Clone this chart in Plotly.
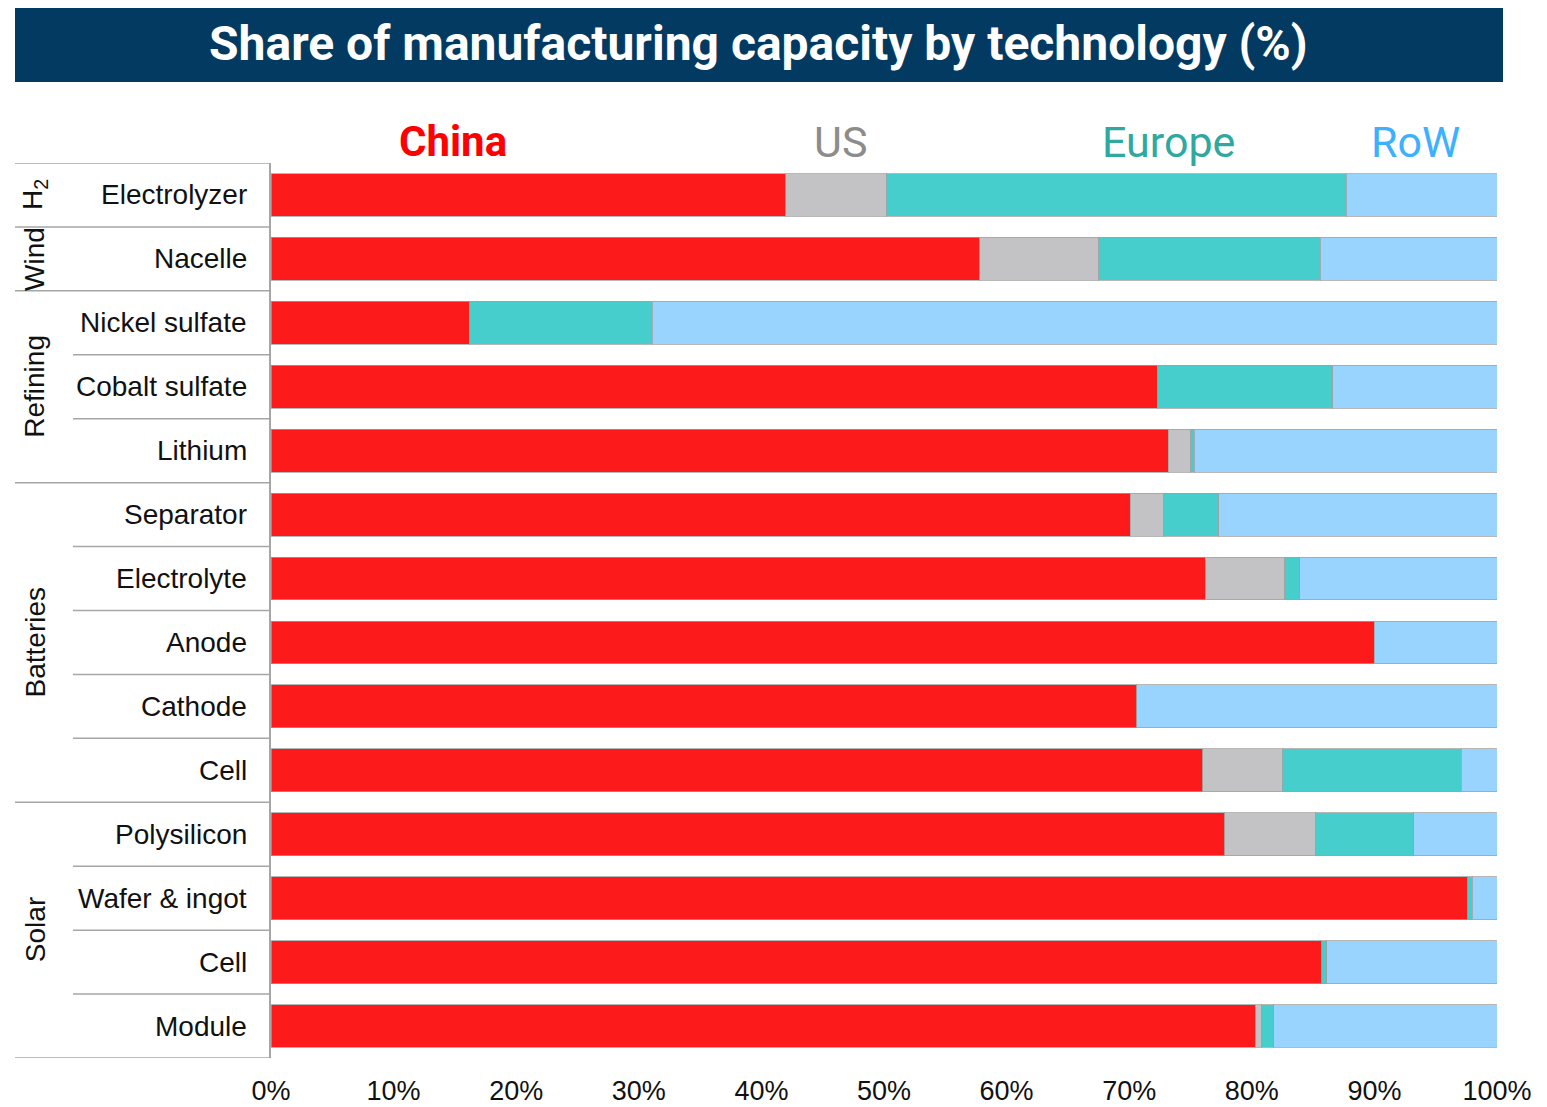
import plotly.graph_objects as go

W, H = 1547, 1107
OFF = 8  # page body margin offset of the rendered figure

categories = ["Electrolyzer", "Nacelle", "Nickel sulfate", "Cobalt sulfate", "Lithium",
              "Separator", "Electrolyte", "Anode", "Cathode", "Cell",
              "Polysilicon", "Wafer & ingot", "Cell", "Module"]
groups = ["H<sub>2</sub>", "Wind", "Refining", "Batteries", "Solar"]
group_sizes = [1, 1, 3, 5, 4]

series_names = ["China", "US", "Europe", "RoW"]
china = [42.0, 57.8, 16.2, 72.3, 73.2, 70.1, 76.2, 90.0, 70.6, 76.0, 77.8, 97.6, 85.7, 80.3]
us = [8.2, 9.7, 0, 0, 1.8, 2.7, 6.5, 0, 0, 6.5, 7.4, 0, 0, 0.5]
europe = [37.5, 18.1, 14.9, 14.3, 0.3, 4.5, 1.2, 0, 0, 14.6, 8.0, 0.4, 0.4, 1.0]
row = [12.3, 14.4, 68.9, 13.4, 24.7, 22.7, 16.1, 10.0, 29.4, 2.9, 6.8, 2.0, 13.9, 18.2]

x_ticks = [0, 10, 20, 30, 40, 50, 60, 70, 80, 90, 100]
x_tick_labels = [f"{t}%" for t in x_ticks]

bar_colors = ["#fc1a1a", "#c3c3c5", "#46cecd", "#99d4fe"]
label_colors = ["#ff0000", "#8c8c8c", "#2fa89f", "#3db1ff"]


def px(x):
    return (x - OFF) / W


def py(y):
    return 1 - (y - OFF) / H


x0_pix, x1_pix = 271, 1497
y_top_pix, y_bot_pix = 163, 1058

fig = go.Figure()
positions = list(range(len(categories)))
for name, vals, col in zip(series_names, [china, us, europe, row], bar_colors):
    fig.add_trace(go.Bar(
        x=[v if v else None for v in vals],
        y=positions,
        orientation="h",
        name=name,
        marker=dict(color=col, line=dict(color="rgba(160,160,160,0.75)", width=1)),
        width=0.67,
        showlegend=False,
        hoverinfo="x+name",
    ))

shapes = []
shapes.append(dict(type="rect", xref="paper", yref="paper",
                   x0=px(15), x1=px(1503), y0=py(82), y1=1,
                   fillcolor="#033a62", line=dict(width=0), layer="below"))

group_bounds = [-0.5]
for s in group_sizes:
    group_bounds.append(group_bounds[-1] + s)
for i in range(len(categories) + 1):
    b = i - 0.5
    is_group = any(abs(b - g) < 1e-9 for g in group_bounds)
    shapes.append(dict(type="line", xref="paper", yref="y",
                       x0=px(15 if is_group else 73), x1=px(x0_pix),
                       y0=b, y1=b, line=dict(color="#a6a6a6", width=1.5)))

annotations = []
annotations.append(dict(text="<b>Share of manufacturing capacity by technology (%)</b>",
                        xref="paper", yref="paper", x=px(758), y=py(44),
                        xanchor="center", yanchor="middle", showarrow=False,
                        font=dict(family="Roboto", size=48, color="white")))

legend_x = [453, 840, 1168, 1415]
for name, lx, col in zip(series_names, legend_x, label_colors):
    txt = f"<b>{name}</b>" if name == "China" else name
    annotations.append(dict(text=txt, xref="paper", yref="paper", x=px(lx), y=py(142),
                            xanchor="center", yanchor="middle", showarrow=False,
                            font=dict(family="Roboto", size=42 if name == "China" else 43, color=col)))

for i, c in enumerate(categories):
    annotations.append(dict(text=c, xref="paper", yref="y", x=px(249), y=i,
                            xanchor="right", yanchor="middle", showarrow=False,
                            font=dict(family="Liberation Sans, Arial", size=28, color="#111111")))

for g, a, b in zip(groups, group_bounds[:-1], group_bounds[1:]):
    annotations.append(dict(text=g, xref="paper", yref="y", x=px(35), y=(a + b) / 2,
                            xanchor="center", yanchor="middle", showarrow=False, textangle=-90,
                            font=dict(family="Liberation Sans, Arial", size=28, color="#111111")))

fig.update_layout(
    width=W, height=H,
    margin=dict(l=0, r=0, t=0, b=0, pad=0, autoexpand=False),
    paper_bgcolor="white", plot_bgcolor="white",
    barmode="stack",
    bargap=0.33,
    shapes=shapes,
    annotations=annotations,
    xaxis=dict(domain=[px(x0_pix), px(x1_pix)], range=[0, 100],
               tickvals=x_ticks, ticktext=x_tick_labels, automargin=False,
               showgrid=False, zeroline=False, showline=False, ticks="",
               tickfont=dict(family="Liberation Sans, Arial", size=27, color="#111111"),
               ticklabelstandoff=14),
    yaxis=dict(domain=[py(y_bot_pix), py(y_top_pix)], automargin=False,
               range=[len(categories) - 0.5, -0.5],
               showticklabels=False, showgrid=False, zeroline=False,
               showline=True, linecolor="#a6a6a6", linewidth=1.5, ticks=""),
)

fig.write_html("out.html")
